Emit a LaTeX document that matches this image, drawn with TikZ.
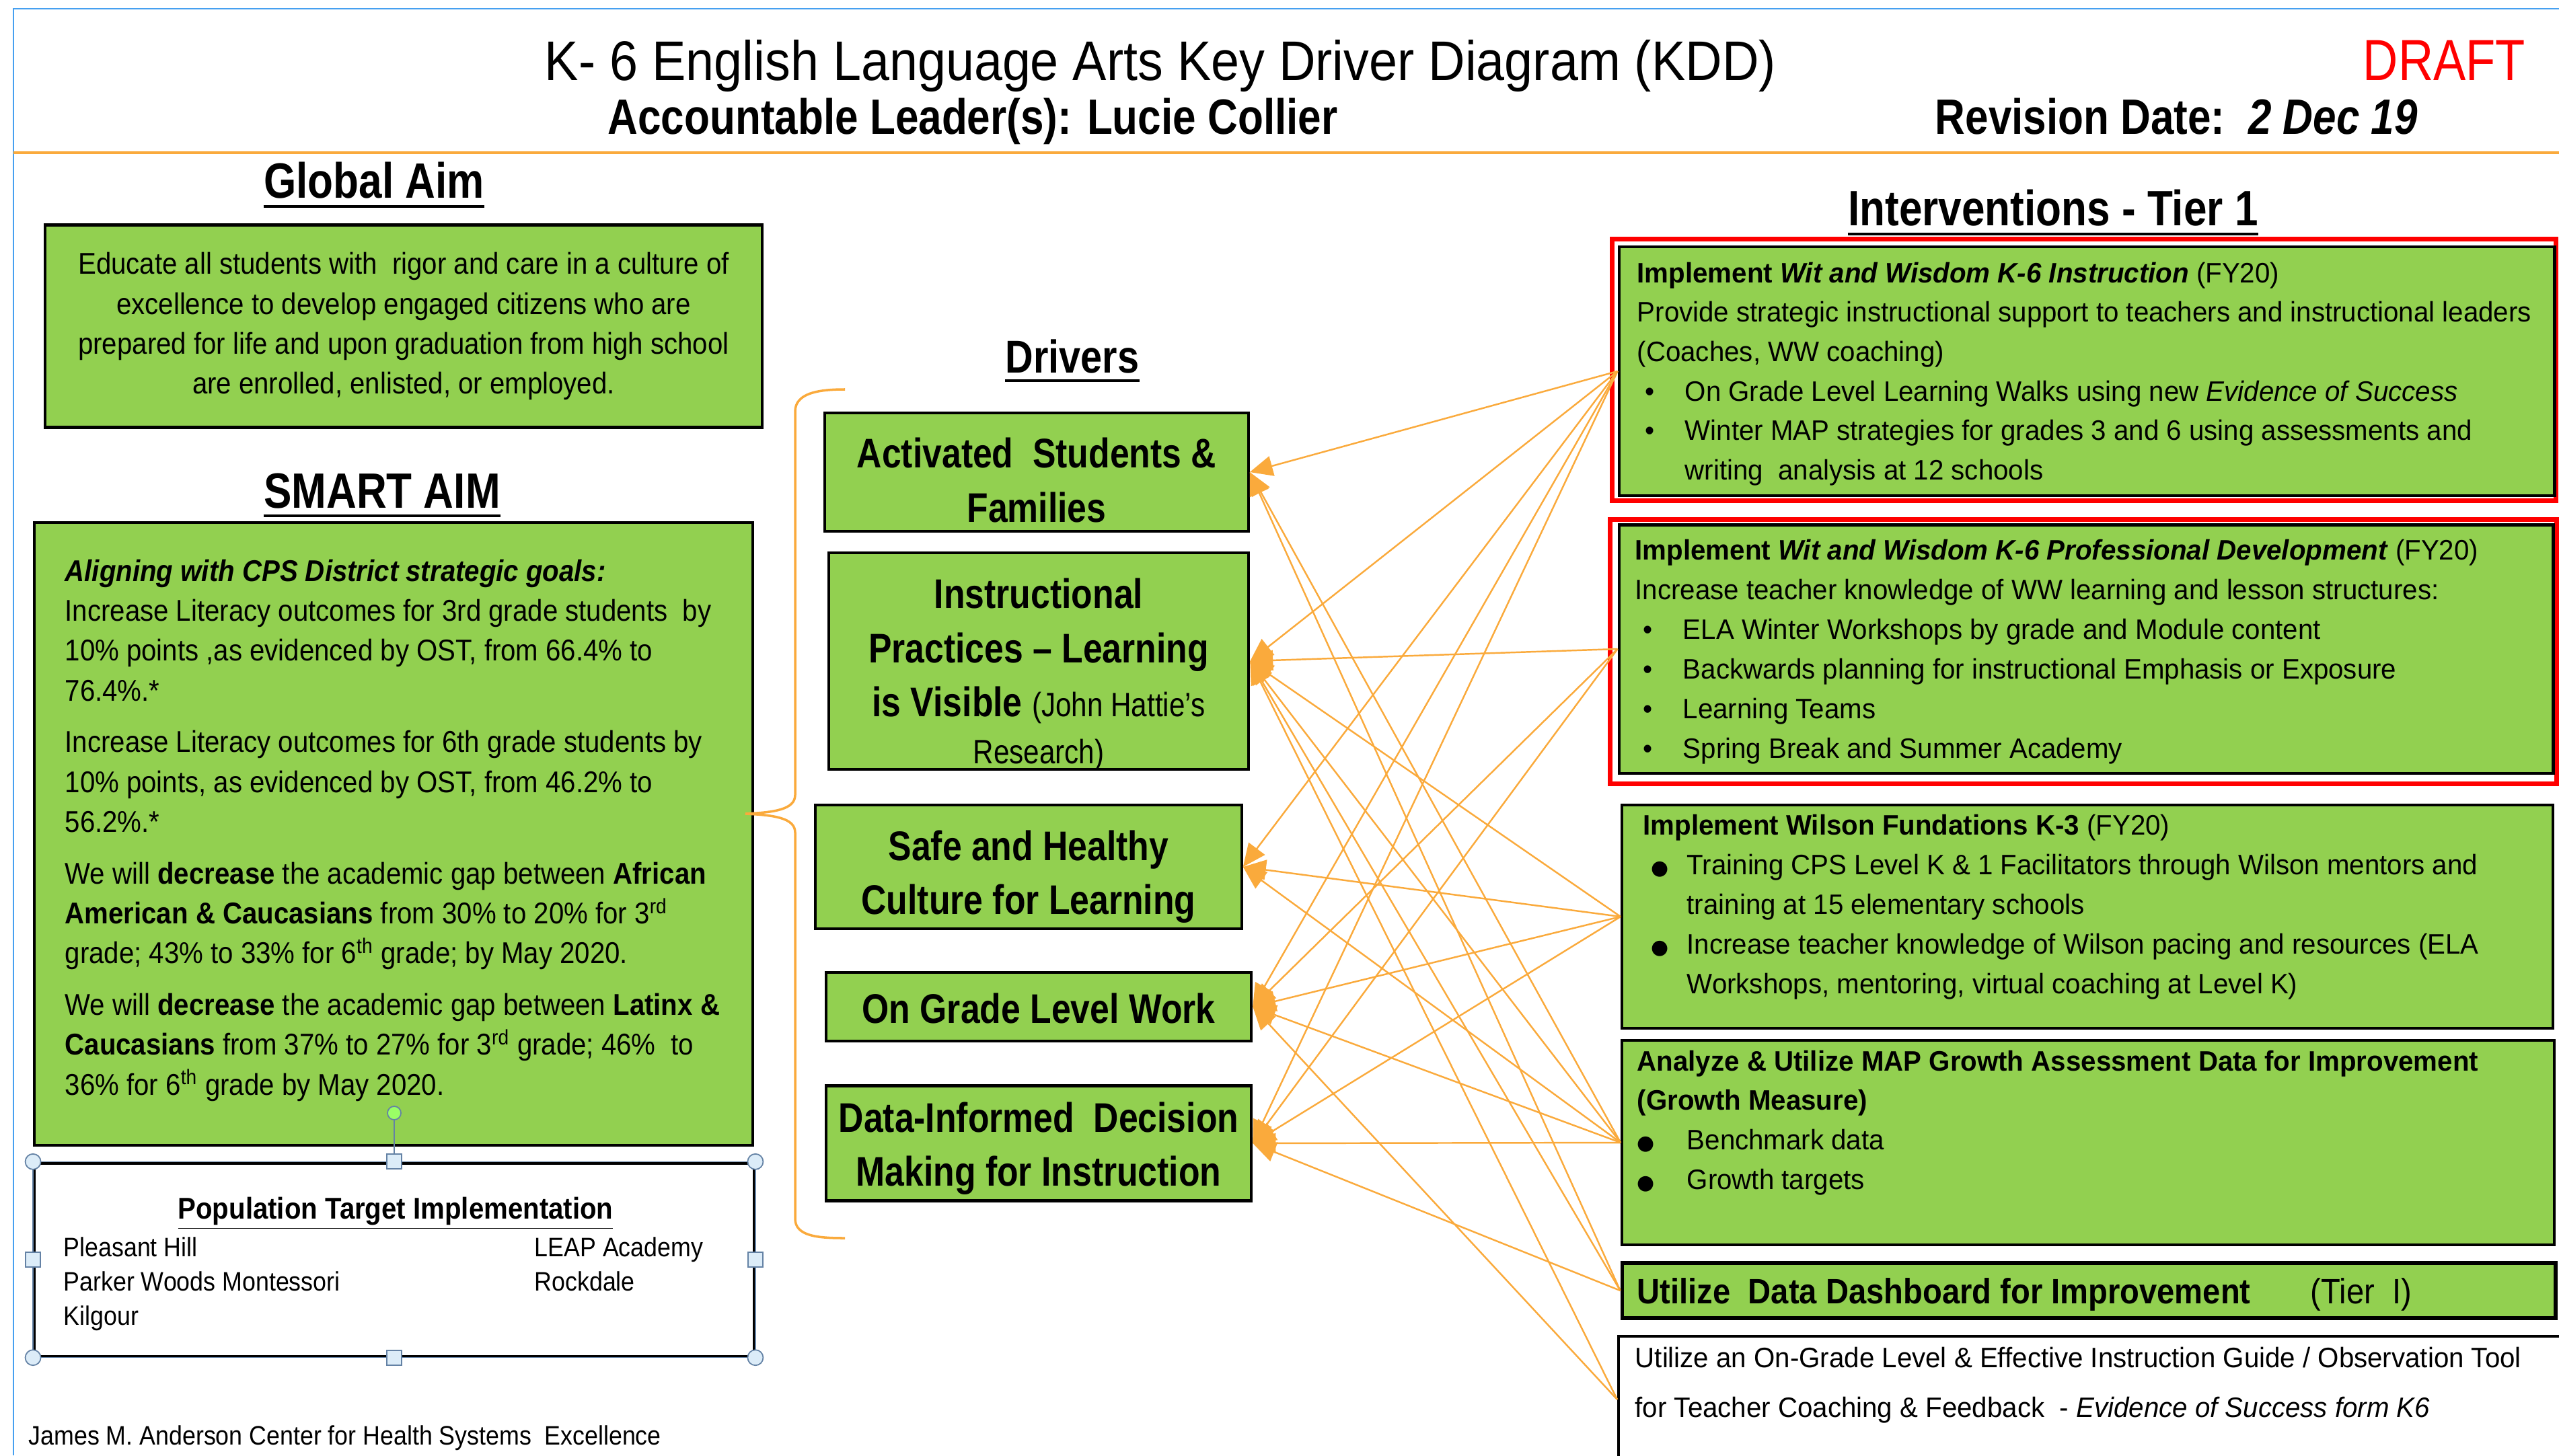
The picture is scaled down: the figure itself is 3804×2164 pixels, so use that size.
\documentclass[tikz,border=0pt]{standalone}
\usepackage{fontspec}
\setmainfont{Liberation Sans}[FakeStretch=0.84]
\newfontfamily\aimfont{Liberation Sans}[FakeStretch=0.9]
\newfontfamily\titlefont{Liberation Sans}[FakeStretch=0.91]
\newfontfamily\tierfont{Liberation Sans}[FakeStretch=0.962]
\newfontfamily\symfont{DejaVu Sans}
\usetikzlibrary{arrows.meta}

\definecolor{kddgreen}{RGB}{146,208,80}
\definecolor{kddorange}{RGB}{250,170,60}
\definecolor{kddblue}{RGB}{70,160,240}
\definecolor{kddred}{RGB}{255,0,0}
\definecolor{handlefill}{RGB}{220,236,248}
\definecolor{handleline}{RGB}{100,130,165}

% bullets used in the intervention boxes
\newcommand{\dotitem}{\hspace*{0.12cm}\makebox[0.59cm][l]{\textbullet}}
\newcommand{\blobitem}[2]{\hspace*{#1}\makebox[#2][l]{{\symfont\fontsize{8.5}{10}\selectfont ●}}}

\tikzset{
  txt/.style={inner sep=0pt, anchor=base west},
  heading/.style={inner sep=0pt, anchor=base, font=\fontsize{21}{25}\selectfont\bfseries},
  greenbox/.style={draw=black, line width=1.2pt, fill=kddgreen, inner sep=0pt},
  drivertext/.style={inner sep=0pt, align=center, font=\fontsize{17.5}{22.8}\selectfont\bfseries},
  redframe/.style={draw=kddred, line width=2pt, inner sep=0pt},
  link/.style={draw=kddorange, line width=0.7pt, -{Triangle[length=0.34cm,width=0.3cm]}},
  handle/.style={draw=handleline, fill=handlefill, line width=0.5pt, inner sep=0pt},
}

\begin{document}
\begin{tikzpicture}[x=0.01cm, y=-0.01cm]
  \useasboundingbox (0,0) rectangle (3804,2164);

  % page frame and header rule
  \draw[kddblue, line width=0.6pt] (20,2164) -- (20,13) -- (3804,13);
  \draw[kddorange, line width=0.9pt] (20,227) -- (3804,227);

  % header
  \node[txt, anchor=base, font=\titlefont\fontsize{23.6}{28}\selectfont] (title) at (1725,120)
    {K- 6 English Language Arts Key Driver Diagram (KDD)};
  \node[txt, font=\fontsize{24.5}{28}\selectfont, text=kddred] (draft) at (3512,120) {DRAFT};
  \node[txt, font=\fontsize{21}{25}\selectfont\bfseries] (leader) at (903,200)
    {Accountable Leader(s): Lucie Collier};
  \node[txt, font=\fontsize{21}{25}\selectfont\bfseries] (revision) at (2876,200)
    {Revision Date:\ \ \textit{2 Dec 19}};

  % global aim
  \node[heading] (globalhead) at (556,295) {Global Aim};
  \node[greenbox, minimum width=10.65cm, minimum height=3.01cm, align=center,
        font=\aimfont\fontsize{12.7}{16.8}\selectfont] (globalaim) at (600,485)
    {Educate all students with\ \ rigor and care in a culture of\\
     excellence to develop engaged citizens who are\\
     prepared for life and upon graduation from high school\\
     are enrolled, enlisted, or employed.};

  % smart aim
  \node[heading] (smarthead) at (568,755) {SMART AIM};
  \node[greenbox, minimum width=10.67cm, minimum height=9.25cm] (smartaim) at (585,1240) {};
  \node[txt, font=\aimfont\fontsize{12.7}{16.9}\selectfont] (smarttext) at (96,864)
    {\begin{tabular}[t]{@{}l@{}}
      \textbf{\textit{Aligning with CPS District strategic goals:}}\\
      Increase Literacy outcomes for 3rd grade students\ \ by\\
      10\% points ,as evidenced by OST, from 66.4\% to\\
      76.4\%.*\\[0.17cm]
      Increase Literacy outcomes for 6th grade students by\\
      10\% points, as evidenced by OST, from 46.2\% to\\
      56.2\%.*\\[0.17cm]
      We will\ \textbf{decrease} the academic gap between \textbf{African}\\
      \textbf{American \& Caucasians} from 30\% to 20\% for 3\textsuperscript{rd}\\
      grade; 43\% to 33\% for 6\textsuperscript{th} grade; by May 2020.\\[0.17cm]
      We will\ \textbf{decrease} the academic gap between \textbf{Latinx \&}\\
      \textbf{Caucasians} from 37\% to 27\% for 3\textsuperscript{rd} grade; 46\%\ \ to\\
      36\% for 6\textsuperscript{th} grade by May 2020.
    \end{tabular}};

  % population box with its selection handles
  \node[draw=black, line width=1.2pt, fill=white, minimum width=10.69cm, minimum height=2.87cm,
        inner sep=0pt] (population) at (586,1873) {};
  \draw[handleline, line width=0.4pt] (population.north west) rectangle (population.south east);
  \draw[handleline, line width=0.5pt] (population.north) -- (586,1655);
  \node[handle, circle, fill=green!55!lime!60!white, minimum size=0.2cm] (rotor) at (586,1655) {};
  \foreach \n/\a in {nw/north west, ne/north east, sw/south west, se/south east}
    \node[handle, circle, minimum size=0.23cm] (corner\n) at (population.\a) {};
  \foreach \n/\a in {n/north, s/south, w/west, e/east}
    \node[handle, minimum size=0.22cm] (side\n) at (population.\a) {};
  \node[txt, anchor=base, font=\aimfont\fontsize{12.7}{15}\selectfont\bfseries] (pophead) at (588,1812)
    {\underline{Population Target Implementation}};
  \node[txt, font=\aimfont\fontsize{11.3}{14.5}\selectfont] (schoolsleft) at (94,1868)
    {\begin{tabular}[t]{@{}l@{}}Pleasant Hill\\Parker Woods Montessori\\Kilgour\end{tabular}};
  \node[txt, font=\aimfont\fontsize{11.3}{14.5}\selectfont] (schoolsright) at (794,1868)
    {\begin{tabular}[t]{@{}l@{}}LEAP Academy\\Rockdale\end{tabular}};

  \node[txt, font=\aimfont\fontsize{11.3}{14}\selectfont] (footer) at (42,2148)
    {James M. Anderson Center for Health Systems\ \ Excellence};

  % brace joining the drivers to the aims
  \draw[kddorange, line width=1pt] (1256,579) .. controls (1215,579) and (1182,585) .. (1182,612)
    -- (1182,1182) .. controls (1182,1204) and (1150,1208) .. (1108,1210)
    .. controls (1150,1212) and (1182,1216) .. (1182,1238)
    -- (1182,1812) .. controls (1182,1838) and (1215,1841) .. (1256,1841);

  % drivers
  \node[heading, font=\fontsize{19.5}{23}\selectfont\bfseries] (drivershead) at (1594,554) {Drivers};
  \node[greenbox, minimum width=6.29cm, minimum height=1.76cm] (d1) at (1541,702) {};
  \node[greenbox, minimum width=6.24cm, minimum height=3.22cm] (d2) at (1544,983) {};
  \node[greenbox, minimum width=6.33cm, minimum height=1.84cm] (d3) at (1529,1289) {};
  \node[greenbox, minimum width=6.32cm, minimum height=1.02cm] (d4) at (1544,1497) {};
  \node[greenbox, minimum width=6.32cm, minimum height=1.71cm] (d5) at (1544,1700) {};
  \node[drivertext] (d1text) at ([yshift=-0.12cm]d1.center) {Activated\ \ Students \&\\Families};
  \node[drivertext] (d2text) at ([yshift=-0.2cm]d2.center)
    {Instructional\\Practices -- Learning\\
     is Visible\ {\mdseries\fontsize{14.3}{17}\selectfont(John Hattie's}\\[-0.1cm]
     {\mdseries\fontsize{14.3}{17}\selectfont Research)}};
  \node[drivertext] (d3text) at ([yshift=-0.15cm]d3.center) {Safe and Healthy\\Culture for Learning};
  \node[drivertext] (d4text) at ([yshift=-0.02cm]d4.center) {On Grade Level Work};
  \node[drivertext] (d5text) at ([yshift=-0.08cm]d5.center) {Data-Informed\ \ Decision\\Making for Instruction};

  % interventions
  \node[heading] (tierhead) at (3052,336) {Interventions - Tier 1};

  \node[redframe, minimum width=14.03cm, minimum height=3.88cm] (i1frame) at (3098,550) {};
  \node[greenbox, minimum width=13.9cm, minimum height=3.7cm] (i1) at (3102,552) {};
  \node[txt, font=\tierfont\fontsize{11.9}{16.7}\selectfont] (i1text) at (2433,420)
    {\begin{tabular}[t]{@{}l@{}}
      \textbf{Implement \textit{Wit and Wisdom K-6 Instruction}} (FY20)\\
      Provide strategic instructional support to teachers and instructional leaders\\
      (Coaches, WW coaching)\\
      \dotitem On Grade Level Learning Walks using new \textit{Evidence of Success}\\
      \dotitem Winter MAP strategies for grades 3 and 6 using assessments and\\
      \hspace*{0.71cm}writing\ \ analysis at 12 schools
    \end{tabular}};

  \node[redframe, minimum width=14.07cm, minimum height=3.92cm] (i2frame) at (3097,969) {};
  \node[greenbox, minimum width=13.88cm, minimum height=3.69cm] (i2) at (3101,965) {};
  \node[txt, font=\tierfont\fontsize{11.9}{16.8}\selectfont] (i2text) at (2430,832)
    {\begin{tabular}[t]{@{}l@{}}
      \textbf{Implement \textit{Wit and Wisdom K-6 Professional Development}} (FY20)\\
      Increase teacher knowledge of WW learning and lesson structures:\\
      \dotitem ELA Winter Workshops by grade and Module content\\
      \dotitem Backwards planning for instructional Emphasis or Exposure\\
      \dotitem Learning Teams\\
      \dotitem Spring Break and Summer Academy
    \end{tabular}};

  \node[greenbox, minimum width=13.83cm, minimum height=3.32cm] (i3) at (3103,1363) {};
  \node[txt, font=\tierfont\fontsize{11.9}{16.8}\selectfont] (i3text) at (2442,1241)
    {\begin{tabular}[t]{@{}l@{}}
      \textbf{Implement Wilson Fundations K-3} (FY20)\\
      \blobitem{0.12cm}{0.53cm}Training CPS Level K \& 1 Facilitators through Wilson mentors and\\
      \hspace*{0.65cm}training at 15 elementary schools\\
      \blobitem{0.12cm}{0.53cm}Increase teacher knowledge of Wilson pacing and resources (ELA\\
      \hspace*{0.65cm}Workshops, mentoring, virtual coaching at Level K)
    \end{tabular}};

  \node[greenbox, minimum width=13.85cm, minimum height=3.04cm] (i4) at (3104,1699) {};
  \node[txt, font=\tierfont\fontsize{11.9}{16.7}\selectfont] (i4text) at (2433,1592)
    {\begin{tabular}[t]{@{}l@{}}
      \textbf{Analyze \& Utilize MAP Growth Assessment Data for Improvement}\\
      \textbf{(Growth Measure)}\\
      \blobitem{0.0cm}{0.74cm}Benchmark data\\
      \blobitem{0.0cm}{0.74cm}Growth targets
    \end{tabular}};

  \node[greenbox, line width=1.5pt, minimum width=13.87cm, minimum height=0.82cm] (i5) at (3105,1919) {};
  \node[txt, font=\aimfont\fontsize{14.9}{18}\selectfont] (i5text) at (2433,1938)
    {\textbf{Utilize\ \ Data Dashboard for Improvement}};
  \node[txt, font=\aimfont\fontsize{14.9}{18}\selectfont] (i5tier) at (3434,1938) {(Tier\ \ I)};

  \node[draw=black, line width=1.2pt, fill=white, minimum width=14.43cm, minimum height=1.88cm,
        inner sep=0pt] (i6) at (3128,2081) {};
  \node[txt, font=\tierfont\fontsize{11.9}{21.3}\selectfont] (i6text) at (2430,2033)
    {\begin{tabular}[t]{@{}l@{}}
      Utilize an On-Grade Level \& Effective Instruction Guide / Observation Tool\\
      for Teacher Coaching \& Feedback\ \ - \textit{Evidence of Success form K6}
    \end{tabular}};

  % heading underlines
  \foreach \h in {globalhead, smarthead, drivershead, tierhead}
    \draw[line width=1.2pt] ([yshift=-0.12cm]\h.base west) -- ([yshift=-0.12cm]\h.base east);

  % interventions feeding the drivers
  \foreach \src/\dst in {i1/d1, i1/d2, i1/d3, i1/d4, i1/d5,
                         i2/d2, i2/d4, i2/d5,
                         i3/d2, i3/d3, i3/d4, i3/d5,
                         i4/d1, i4/d2, i4/d3, i4/d4, i4/d5,
                         i5/d1, i5/d2, i5/d5,
                         i6/d2, i6/d4}
    \draw[link] (\src.west) -- (\dst.east);
\end{tikzpicture}
\end{document}
